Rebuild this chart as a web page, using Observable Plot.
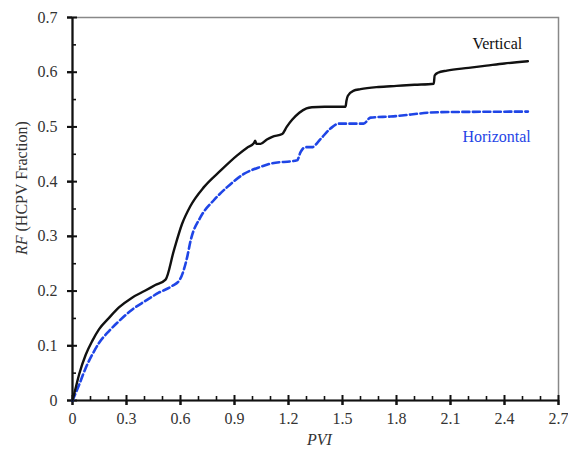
<!DOCTYPE html>
<html>
<head>
<meta charset="utf-8">
<script src="https://cdn.jsdelivr.net/npm/d3@7"></script>
<script src="https://cdn.jsdelivr.net/npm/@observablehq/plot@0.6"></script>
<style>
  html, body { margin: 0; padding: 0; background: white; }
  #chart svg, #chart svg text { font-family: "Liberation Serif", "Times New Roman", serif !important; }
</style>
</head>
<body>
<div id="chart"></div>
<script>
// Vertical well (black, solid)
const pviVertical = [0, 0.02, 0.037, 0.074, 0.11, 0.147, 0.203, 0.258, 0.331, 0.405, 0.46, 0.517,
  0.563, 0.609, 0.656, 0.73, 0.822, 0.915, 0.97, 1.007, 1.015, 1.022, 1.045, 1.08, 1.11, 1.165,
  1.19, 1.22, 1.26, 1.3, 1.33, 1.4, 1.517, 1.522, 1.53, 1.56, 1.6, 1.7, 1.8, 1.9, 2.007, 2.012,
  2.03, 2.08, 2.2, 2.3, 2.4, 2.53];
const rfVertical = [0, 0.026, 0.048, 0.084, 0.109, 0.130, 0.151, 0.170, 0.188, 0.201, 0.211, 0.221,
  0.274, 0.323, 0.356, 0.39, 0.42, 0.448, 0.462, 0.47, 0.475, 0.469, 0.469, 0.477, 0.482, 0.487,
  0.5, 0.513, 0.526, 0.534, 0.536, 0.537, 0.537, 0.548, 0.557, 0.566, 0.569, 0.573, 0.575, 0.577, 0.579, 0.594,
  0.599, 0.603, 0.608, 0.612, 0.616, 0.620];

// Horizontal well (blue, dashed)
const pviHorizontal = [0, 0.037, 0.074, 0.11, 0.147, 0.203, 0.258, 0.331, 0.405, 0.479, 0.552, 0.598,
  0.637, 0.656, 0.711, 0.785, 0.859, 0.952, 1.044, 1.1, 1.248, 1.267, 1.294, 1.33, 1.378, 1.433,
  1.48, 1.617, 1.656, 1.767, 2.04, 2.53];
const rfHorizontal = [0, 0.029, 0.060, 0.084, 0.105, 0.127, 0.145, 0.166, 0.182, 0.197, 0.209, 0.222,
  0.262, 0.292, 0.335, 0.366, 0.39, 0.414, 0.427, 0.433, 0.439, 0.454, 0.463, 0.463, 0.478, 0.497,
  0.506, 0.506, 0.517, 0.519, 0.527, 0.528];

// Axis ticks
const xTicks = [0, 0.3, 0.6, 0.9, 1.2, 1.5, 1.8, 2.1, 2.4, 2.7];
const xTickLabels = ["0", "0.3", "0.6", "0.9", "1.2", "1.5", "1.8", "2.1", "2.4", "2.7"];
const xMinorTicks = [0.1, 0.2, 0.4, 0.5, 0.7, 0.8, 1.0, 1.1, 1.3, 1.4, 1.6, 1.7, 1.9, 2.0, 2.2, 2.3, 2.5, 2.6];
const yTicks = [0, 0.1, 0.2, 0.3, 0.4, 0.5, 0.6, 0.7];
const yTickLabels = ["0", "0.1", "0.2", "0.3", "0.4", "0.5", "0.6", "0.7"];
const yMinorTicks = [0.05, 0.15, 0.25, 0.35, 0.45, 0.55, 0.65];

// Series labels
const seriesNames = ["Vertical", "Horizontal"];
const seriesLabelX = [2.36, 2.356];
const seriesLabelY = [0.651, 0.482];
const seriesColors = ["#111111", "#1f45e6"];

const vertical = pviVertical.map((x, i) => ({x, y: rfVertical[i]}));
const horizontal = pviHorizontal.map((x, i) => ({x, y: rfHorizontal[i]}));
const labels = seriesNames.map((name, i) => ({name, x: seriesLabelX[i], y: seriesLabelY[i], color: seriesColors[i]}));

const fmtX = d => xTickLabels[xTicks.findIndex(t => Math.abs(t - d) < 1e-9)];
const fmtY = d => yTickLabels[yTicks.findIndex(t => Math.abs(t - d) < 1e-9)];
const serif = "Liberation Serif";

const chart = Plot.plot({
  width: 568,
  height: 453,
  marginLeft: 72,
  marginRight: 10,
  marginTop: 17,
  marginBottom: 53,
  style: {fontFamily: serif, fontSize: "16px", background: "white", color: "#333"},
  x: {domain: [0, 2.7], axis: null},
  y: {domain: [0, 0.7], axis: null},
  marks: [
    Plot.frame({stroke: "#888", strokeWidth: 1.5}),
    // tick labels (outer ticks)
    Plot.axisX({ticks: xTicks, tickSize: 5, tickPadding: 7, tickFormat: fmtX, label: null, stroke: "#111", strokeWidth: 2, fill: "#333", fontSize: 16, fontFamily: serif}),
    Plot.axisY({ticks: yTicks, tickSize: 5, tickPadding: 10, tickFormat: fmtY, label: null, stroke: "#111", strokeWidth: 2, fill: "#333", fontSize: 16, fontFamily: serif}),
    // major ticks crossing the axis
    Plot.axisX({ticks: xTicks, tickSize: 10, dy: -5, tickFormat: () => "", label: null, stroke: "#111", strokeWidth: 2}),
    Plot.axisY({ticks: yTicks, tickSize: 10, dx: 5, tickFormat: () => "", label: null, stroke: "#111", strokeWidth: 2}),
    // minor ticks inside
    Plot.axisX({ticks: xMinorTicks, tickSize: 4, dy: -4, tickFormat: () => "", label: null, stroke: "#111", strokeWidth: 1.6}),
    Plot.axisY({ticks: yMinorTicks, tickSize: 4, dx: 4, tickFormat: () => "", label: null, stroke: "#111", strokeWidth: 1.6}),
    Plot.ruleY([0], {stroke: "#111", strokeWidth: 2.2}),
    Plot.ruleX([0], {stroke: "#111", strokeWidth: 2.2}),
    Plot.line(horizontal, {x: "x", y: "y", curve: "monotone-x", stroke: seriesColors[1], strokeWidth: 2.6, strokeDasharray: "7,3.5"}),
    Plot.line(vertical, {x: "x", y: "y", curve: "monotone-x", stroke: seriesColors[0], strokeWidth: 2.4}),
    Plot.text(labels, {x: "x", y: "y", text: "name", fill: "color", fontSize: 16, fontFamily: serif}),
    Plot.text(["PVI"], {frameAnchor: "bottom", dx: 4, dy: 44, text: d => d, fontStyle: "italic", fill: "#333", fontSize: 16, fontFamily: serif}),
    Plot.text(["RF"], {frameAnchor: "left", dx: -51, dy: 26.5, rotate: -90, textAnchor: "end", text: d => d, fontStyle: "italic", fill: "#333", fontSize: 16, fontFamily: serif}),
    Plot.text(["(HCPV Fraction)"], {frameAnchor: "left", dx: -51, dy: 22.5, rotate: -90, textAnchor: "start", text: d => d, fill: "#333", fontSize: 16, fontFamily: serif})
  ]
});
document.getElementById("chart").appendChild(chart);
</script>
</body>
</html>
